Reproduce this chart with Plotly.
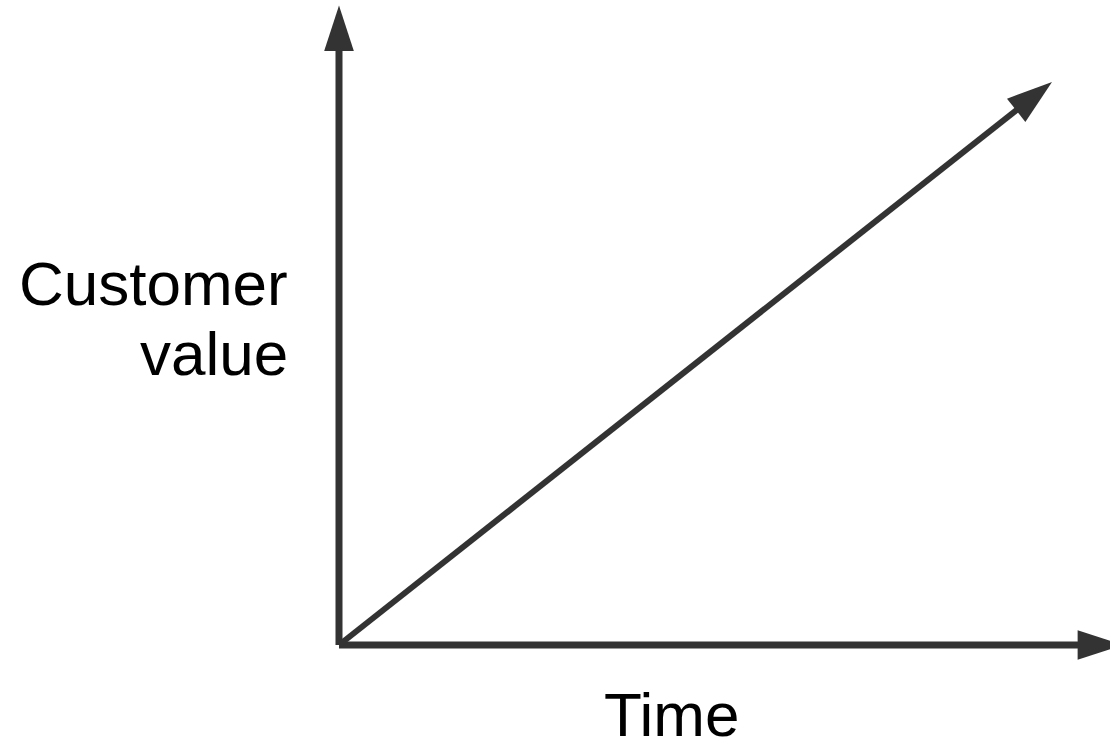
import plotly.graph_objects as go

# Conceptual chart: customer value grows linearly with time
time_values = [0, 10]
customer_values = [0, 10]

# Axis arrows (data units)
x_axis_x = [0, 11]
x_axis_y = [0, 0]
y_axis_x = [0, 0]
y_axis_y = [0, 11.36]

x_label = "Time"
y_label_lines = ["Customer", "value"]

LINE_COLOR = "#333333"
W, H = 1110, 751

fig = go.Figure()

def arrow_trace(xs, ys, width):
    return go.Scatter(
        x=xs, y=ys, mode="lines+markers",
        line=dict(color=LINE_COLOR, width=width),
        marker=dict(symbol="arrow", size=[0, 48], angleref="previous", opacity=1,
                    color=LINE_COLOR, line=dict(width=0)),
        hoverinfo="skip", showlegend=False,
    )

fig.add_trace(arrow_trace(x_axis_x, x_axis_y, 7))
fig.add_trace(arrow_trace(y_axis_x, y_axis_y, 7))
fig.add_trace(arrow_trace(time_values, customer_values, 6))

font = dict(family="Liberation Sans, Arial, Helvetica, sans-serif", size=62, color="#000000")

fig.add_annotation(text=x_label, xref="paper", yref="paper", x=671 / W, y=0,
                   xanchor="center", yanchor="bottom", showarrow=False, font=font)
fig.add_annotation(text=y_label_lines[0], xref="paper", yref="paper", x=290 / W, y=0.6225,
                   xanchor="right", yanchor="middle", showarrow=False, font=font)
fig.add_annotation(text=y_label_lines[1], xref="paper", yref="paper", x=290 / W, y=0.5293,
                   xanchor="right", yanchor="middle", showarrow=False, font=font)

fig.update_xaxes(range=[-339 / 71.3, (W - 339) / 71.3], visible=False, fixedrange=True)
fig.update_yaxes(range=[-(H - 645) / 56.3, 645 / 56.3], visible=False, fixedrange=True)

fig.update_layout(
    width=W, height=H,
    margin=dict(l=0, r=0, t=0, b=0),
    plot_bgcolor="white", paper_bgcolor="white",
    showlegend=False,
)

fig.write_html(
    "out.html",
    config={"displayModeBar": False},
    post_script="document.body.style.margin='0';document.body.style.overflow='hidden';",
)
